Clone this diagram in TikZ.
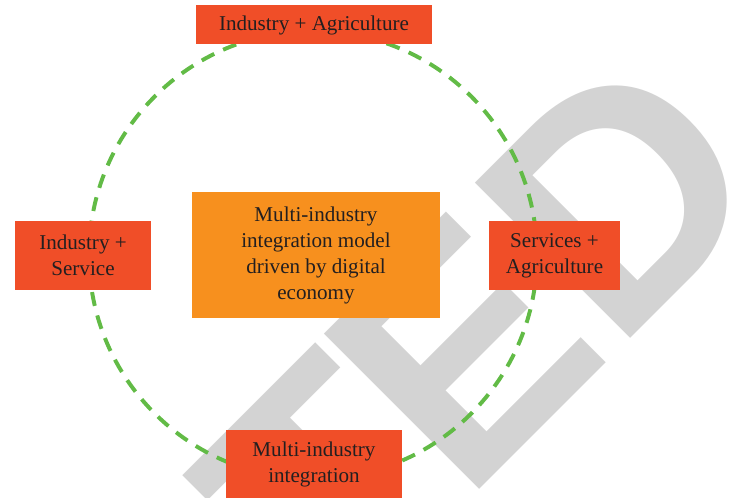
\documentclass[tikz,border=0pt]{standalone}
\usepackage{fontspec}
\setmainfont{Liberation Serif}
\newfontfamily\stampfont[LetterSpace=-4]{Liberation Sans}
\usepackage{tikz}
\definecolor{boxred}{RGB}{240,78,40}
\definecolor{boxorange}{RGB}{247,144,30}
\definecolor{ringgreen}{RGB}{98,187,70}
\definecolor{stampgray}{RGB}{211,211,211}
\definecolor{inkblack}{RGB}{35,31,32}

\begin{document}
\begin{tikzpicture}[x=0.025cm, y=0.025cm,
    every node/.style={font=\fontsize{15}{18.5}\selectfont, text=inkblack, align=center, inner sep=0pt},
    redbox/.style={fill=boxred},
    stamp/.style={font=\stampfont\bfseries\fontsize{227}{227}\selectfont, text=stampgray, rotate=45},
    ring/.style={ringgreen, line width=2.8pt, dash pattern=on 10pt off 7pt}]
  \clip (0,0) rectangle (738,498);
  \node[stamp, anchor=base west] (stampd) at (615,144) {D};
  \node[stamp, anchor=base east] (stamprest) at (stampd.base west) {RETRACTE};
  \coordinate (hub) at (313,243);
  \draw[ring] (hub) circle[radius=224];
  \node[fill=boxorange, minimum width=6.2cm, minimum height=3.15cm] (model) at (316,243)
    {Multi-industry\\integration model\\driven by digital\\economy};
  \node[redbox, minimum width=5.9cm, minimum height=0.975cm] (indagr) at (314,473) {Industry + Agriculture};
  \node[redbox, minimum width=3.4cm, minimum height=1.725cm] (indser) at (83,242.5) {Industry +\\Service};
  \node[redbox, minimum width=3.275cm, minimum height=1.725cm] (seragr) at (554.5,242.5) {Services +\\Agriculture};
  \node[redbox, minimum width=4.4cm, minimum height=1.7cm] (multi) at (314,34) {Multi-industry\\integration};
\end{tikzpicture}
\end{document}
